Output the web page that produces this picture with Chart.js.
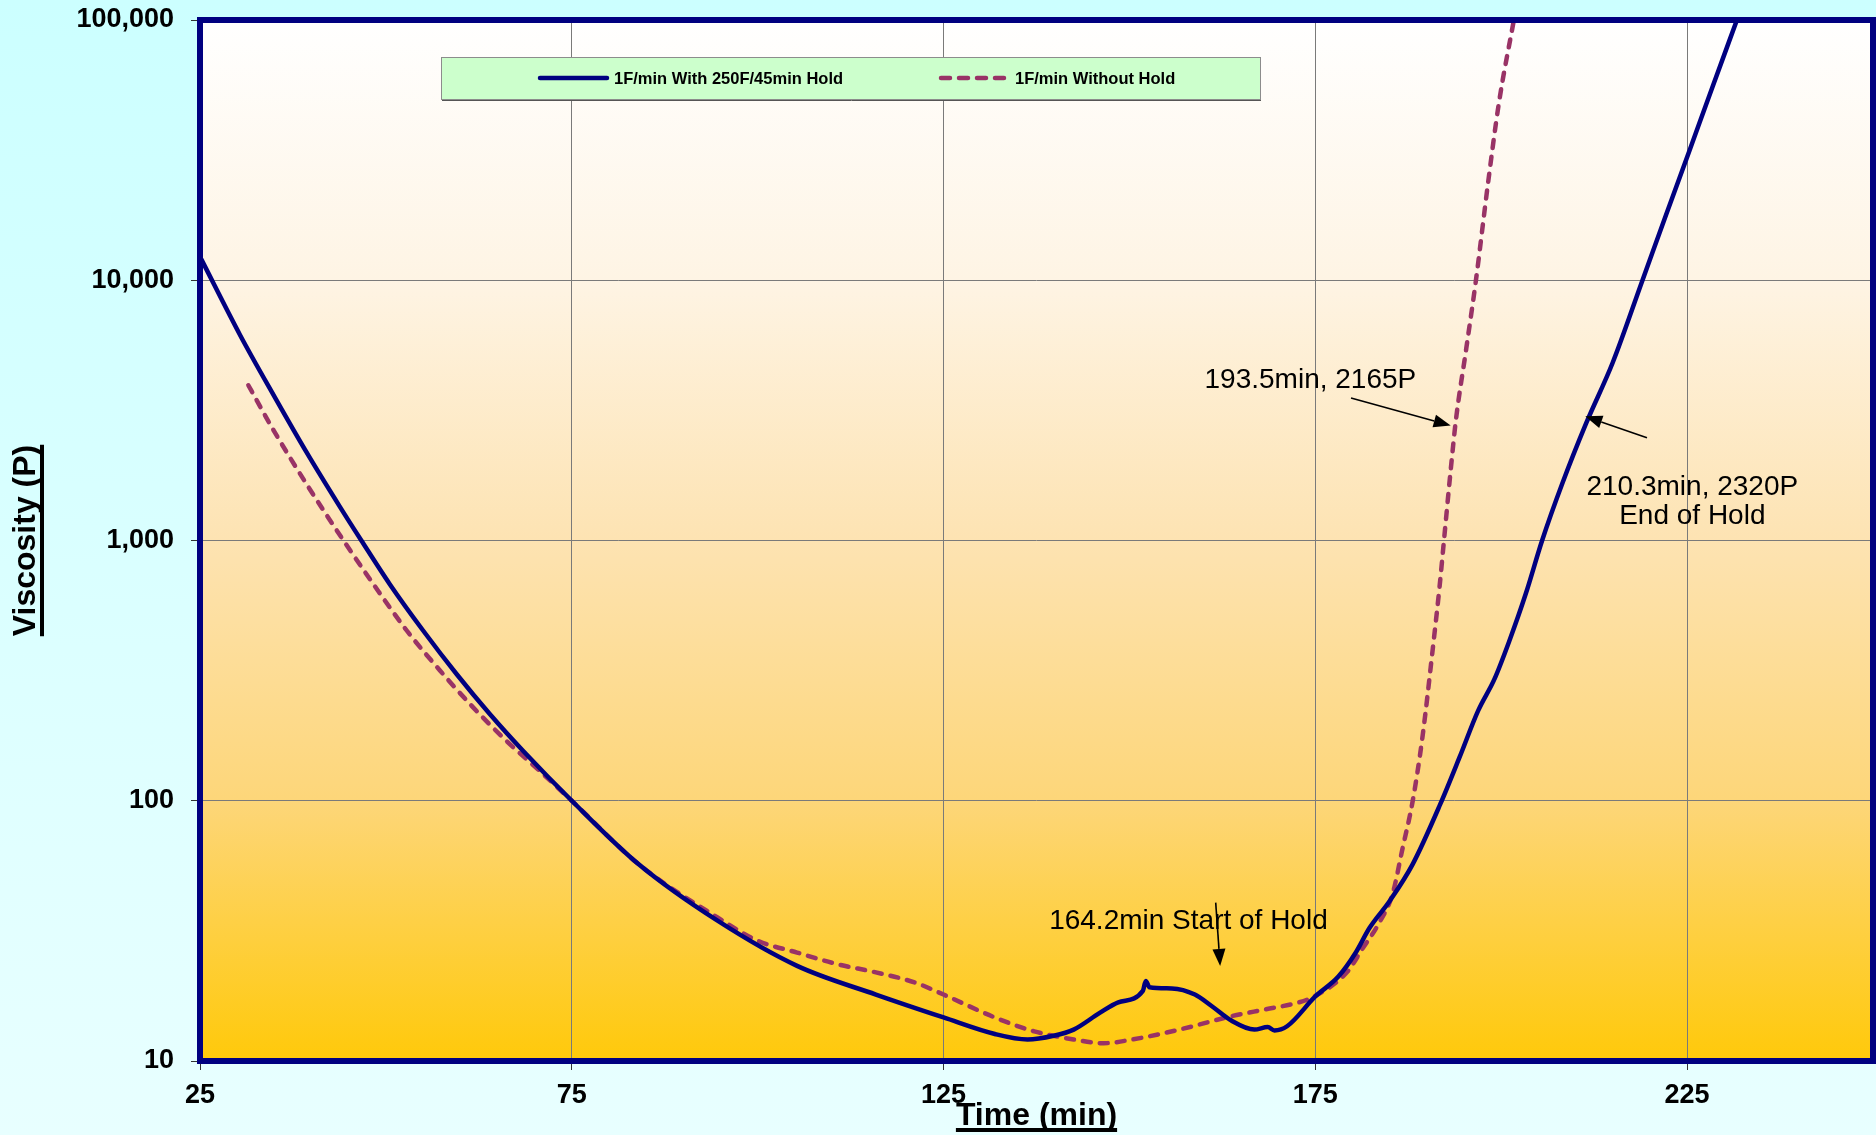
<!DOCTYPE html>
<html>
<head>
<meta charset="utf-8">
<script src="https://cdn.jsdelivr.net/npm/chart.js@4/dist/chart.umd.min.js"></script>
<style>
html,body{margin:0;padding:0;}
body{width:1876px;height:1135px;overflow:hidden;background:linear-gradient(#CCFFFF,#E8FFFF);}
#wrap{position:relative;width:1876px;height:1135px;}
</style>
</head>
<body>
<div id="wrap"><canvas id="c"></canvas></div>
<script>
// ---- data ----
const X_TICKS = [25, 75, 125, 175, 225];
const Y_TICKS = [10, 100, 1000, 10000, 100000];
const X_TITLE = 'Time (min)';
const Y_TITLE = 'Viscosity (P)';
const SERIES_NAMES = ['1F/min With 250F/45min Hold', '1F/min Without Hold'];

const TIME_HOLD = [25.2, 30.4, 34.9, 39.3, 43.8, 46.7, 50.5, 55.0, 59.5, 64.0, 68.5, 75, 84, 94.6, 105.3, 115.9, 125, 131.9, 136.3, 139.8, 142.5, 146, 148.5, 151.8, 152.2, 152.7, 155.7, 158.8, 161, 163.7, 166.8, 168.6, 169.5, 171.2, 175, 178.1, 180.4, 182.3, 185, 188.1, 191.8, 194.4, 196.9, 199.1, 201.1, 203.3, 205.5, 208.2, 211.4, 215, 219, 222.1, 225.3, 228.4, 231.7];
const VISC_HOLD = [12000, 6150, 3620, 2190, 1350, 1000, 681, 451, 307, 215, 155, 100, 57, 34.6, 23.2, 18.0, 14.7, 12.7, 12.1, 12.5, 13.2, 15.3, 16.8, 18.6, 20.3, 19.2, 19.0, 18.0, 16.3, 14.3, 13.2, 13.5, 13.1, 13.6, 17.7, 21.1, 26.0, 32.5, 41.2, 57.1, 97, 147, 222, 294, 412, 624, 1000, 1652, 2812, 4830, 10000, 17600, 31400, 55200, 100000];

const TIME_NOHOLD = [31.5, 34.9, 39.3, 44.3, 48.3, 52.8, 57.3, 61.7, 66.2, 70.7, 75, 84, 94.6, 100, 105.3, 110.6, 115.9, 121.2, 125, 131.9, 137.2, 142.5, 146.5, 150.4, 156.7, 163.9, 168.3, 172.8, 175, 179.3, 181.3, 183.6, 185.4, 186.7, 188.1, 189.4, 190.8, 191.7, 192.3, 193.2, 193.9, 195.3, 196.6, 198.2, 199.7, 201.7];
const VISC_NOHOLD = [3950, 2650, 1652, 1000, 681, 451, 316, 229, 170, 130, 100, 57, 35.6, 29.0, 26.1, 23.6, 21.9, 20.0, 18.0, 14.7, 13.0, 12.1, 11.7, 12.1, 13.2, 14.9, 15.8, 16.8, 17.8, 22.0, 26.9, 34.0, 44.0, 65, 100, 175, 385, 661, 1000, 1858, 2894, 5470, 10000, 23300, 48200, 100000];

// annotation texts, anchored in data units (time, viscosity)
const NOTE_TEXTS = [['193.5min, 2165P'], ['210.3min, 2320P', 'End of Hold'], ['164.2min Start of Hold']];
const NOTE_AT = [[160.1, 4120], [225.7, 1603], [139.2, 34.5]];
const NOTE_ALIGN = ['left', 'center', 'left'];
const ARROW_FROM = [[179.8, 3525], [219.6, 2483], [161.6, 40.6]];
const ARROW_TO = [[193.2, 2767], [211.3, 3000], [162.2, 23.2]];

// ---- styling ----
const FONT = '"Liberation Sans", Arial, Helvetica, sans-serif';
const NAVY = '#000080';
const PLUM = '#993366';

function toXY(xs, ys){ return xs.map((x,i)=>({x:x, y:ys[i]})); }

const decor = {
  id: 'decor',
  beforeDraw(chart){
    const {ctx, chartArea:a} = chart;
    const g = ctx.createLinearGradient(0, a.top, 0, a.bottom);
    g.addColorStop(0, '#FFFFFF');
    g.addColorStop(0.25, '#FEF4E4');
    g.addColorStop(0.5, '#FDE3B2');
    g.addColorStop(0.75, '#FDD679');
    g.addColorStop(1, '#FFC90A');
    ctx.save();
    ctx.fillStyle = g;
    ctx.fillRect(a.left, a.top, a.right - a.left, a.bottom - a.top);
    ctx.restore();
  },
  afterDraw(chart){
    const {ctx, chartArea:a, scales} = chart;
    const xs = scales.x, ys = scales.y;
    ctx.save();
    // frame
    ctx.strokeStyle = NAVY;
    ctx.lineWidth = 6;
    ctx.strokeRect(a.left, a.top, a.right - a.left, a.bottom - a.top);

    // legend box
    const lx = 441, ly = 57, lw = 819, lh = 42;
    ctx.fillStyle = '#CCFFCC';
    ctx.fillRect(lx, ly, lw, lh);
    ctx.strokeStyle = '#8c8c8c';
    ctx.lineWidth = 1;
    ctx.strokeRect(lx + 0.5, ly + 0.5, lw, lh);
    ctx.strokeStyle = '#555';
    ctx.beginPath(); ctx.moveTo(lx + 1, ly + lh + 1.5); ctx.lineTo(lx + lw + 1, ly + lh + 1.5); ctx.stroke();
    const my = ly + lh / 2;
    ctx.lineCap = 'round';
    ctx.lineWidth = 4.5;
    ctx.strokeStyle = NAVY;
    ctx.setLineDash([]);
    ctx.beginPath(); ctx.moveTo(540, my); ctx.lineTo(607, my); ctx.stroke();
    ctx.strokeStyle = PLUM;
    ctx.setLineDash([9, 9]);
    ctx.beginPath(); ctx.moveTo(941, my); ctx.lineTo(1009, my); ctx.stroke();
    ctx.setLineDash([]);
    ctx.fillStyle = '#000';
    ctx.font = 'bold 16.5px ' + FONT;
    ctx.textBaseline = 'middle';
    ctx.textAlign = 'left';
    ctx.fillText(SERIES_NAMES[0], 614, my + 1);
    ctx.fillText(SERIES_NAMES[1], 1015, my + 1);

    // annotations
    ctx.font = '28px ' + FONT;
    ctx.fillStyle = '#000';
    NOTE_TEXTS.forEach((lines, i) => {
      const px = xs.getPixelForValue(NOTE_AT[i][0]);
      const py = ys.getPixelForValue(NOTE_AT[i][1]);
      ctx.textAlign = NOTE_ALIGN[i];
      lines.forEach((t, k) => ctx.fillText(t, px, py + k * 29));
      const x1 = xs.getPixelForValue(ARROW_FROM[i][0]), y1 = ys.getPixelForValue(ARROW_FROM[i][1]);
      const x2 = xs.getPixelForValue(ARROW_TO[i][0]), y2 = ys.getPixelForValue(ARROW_TO[i][1]);
      const ang = Math.atan2(y2 - y1, x2 - x1);
      const hl = 17, hw = 6.5;
      const bx = x2 - hl * Math.cos(ang), by = y2 - hl * Math.sin(ang);
      ctx.strokeStyle = '#000';
      ctx.lineWidth = 1.6;
      ctx.lineCap = 'butt';
      ctx.beginPath(); ctx.moveTo(x1, y1); ctx.lineTo(bx, by); ctx.stroke();
      ctx.beginPath();
      ctx.moveTo(x2, y2);
      ctx.lineTo(bx + hw * Math.sin(ang), by - hw * Math.cos(ang));
      ctx.lineTo(bx - hw * Math.sin(ang), by + hw * Math.cos(ang));
      ctx.closePath();
      ctx.fill();
    });

    // underline the axis titles
    ctx.font = 'bold 32px ' + FONT;
    ctx.fillStyle = '#000';
    const wx = ctx.measureText(X_TITLE).width;
    const cx = (a.left + a.right) / 2;
    ctx.fillRect(cx - wx / 2, 1128, wx, 4);
    const wy = ctx.measureText(Y_TITLE).width;
    const cy = (a.top + a.bottom) / 2;
    ctx.fillRect(40, cy - wy / 2, 4, wy);
    ctx.restore();
  }
};

new Chart(document.getElementById('c'), {
  type: 'line',
  data: {
    datasets: [
      {
        label: SERIES_NAMES[0],
        data: toXY(TIME_HOLD, VISC_HOLD),
        borderColor: NAVY,
        backgroundColor: NAVY,
        borderWidth: 4.5,
        pointRadius: 0,
        cubicInterpolationMode: 'monotone',
        borderCapStyle: 'round',
        borderJoinStyle: 'round',
        fill: false
      },
      {
        label: SERIES_NAMES[1],
        data: toXY(TIME_NOHOLD, VISC_NOHOLD),
        borderColor: PLUM,
        backgroundColor: PLUM,
        borderWidth: 4.5,
        borderDash: [8, 9],
        borderCapStyle: 'round',
        pointRadius: 0,
        cubicInterpolationMode: 'monotone',
        fill: false
      }
    ]
  },
  options: {
    responsive: true,
    maintainAspectRatio: false,
    animation: false,
    layout: { padding: { top: 20, right: 3, left: 0, bottom: 0 } },
    plugins: { legend: { display: false }, tooltip: { enabled: false } },
    scales: {
      x: {
        type: 'linear',
        min: 25,
        max: 250,
        afterBuildTicks: s => { s.ticks = X_TICKS.map(v => ({ value: v })); },
        afterFit: s => { s.height = 74; s.paddingLeft = 0; s.paddingRight = 0; },
        grid: { color: '#7a7a7a', lineWidth: 1, tickLength: 9, tickColor: '#333' },
        border: { display: false },
        ticks: { color: '#000', padding: 9, maxRotation: 0, font: { family: FONT, size: 27, weight: 'bold' }, callback: v => String(v) },
        title: { display: true, text: X_TITLE, color: '#000', padding: { top: 0, bottom: 0 }, font: { family: FONT, size: 32, weight: 'bold' } }
      },
      y: {
        type: 'logarithmic',
        min: 10,
        max: 100000,
        afterBuildTicks: s => { s.ticks = Y_TICKS.map(v => ({ value: v })); },
        afterFit: s => { s.width = 200; s.paddingTop = 0; s.paddingBottom = 0; },
        grid: { color: '#7a7a7a', lineWidth: 1, tickLength: 9, tickColor: '#333' },
        border: { display: false },
        ticks: { color: '#000', padding: 17, font: { family: FONT, size: 27, weight: 'bold' }, callback: v => Number(v).toLocaleString('en-US') },
        title: { display: true, text: Y_TITLE, color: '#000', padding: { top: 7, bottom: 0 }, font: { family: FONT, size: 32, weight: 'bold' } }
      }
    }
  },
  plugins: [decor]
});
</script>
</body>
</html>
